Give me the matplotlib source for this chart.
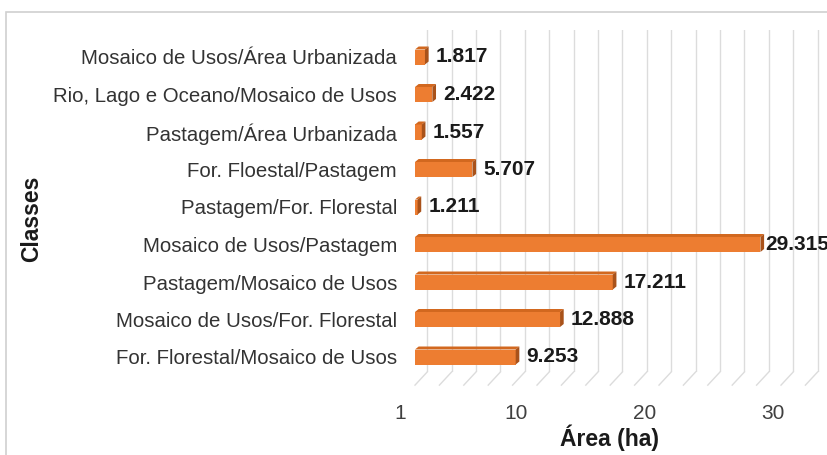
import matplotlib
matplotlib.use('Agg')
import matplotlib.pyplot as plt
from matplotlib.patches import Polygon, Rectangle
import numpy as np

plt.rcParams['font.family'] = ['Liberation Sans', 'DejaVu Sans']

# Data (bottom to top)
categories = [
    "For. Florestal/Mosaico de Usos",
    "Mosaico de Usos/For. Florestal",
    "Pastagem/Mosaico de Usos",
    "Mosaico de Usos/Pastagem",
    "Pastagem/For. Florestal",
    "For. Floestal/Pastagem",
    "Pastagem/Área Urbanizada",
    "Rio, Lago e Oceano/Mosaico de Usos",
    "Mosaico de Usos/Área Urbanizada",
]
values = [9.253, 12.888, 17.211, 29.315, 1.211, 5.707, 1.557, 2.422, 1.817]
x_ticks = [1, 10, 20, 30]
axis_min = 1

W, H = 827, 455
fig = plt.figure(figsize=(W / 100, H / 100), dpi=100)


def px(l, t, r, b):
    return [l / W, 1 - b / H, (r - l) / W, (b - t) / H]


back_scale = 12.2   # px per unit at back wall
front_scale = 12.85  # px per unit at front floor edge

ax = fig.add_axes(px(415, 30, 827, 372))
xmax = axis_min + 412 / back_scale
ax.set_xlim(axis_min, xmax)
ax.set_ylim(-0.4, len(categories) - 1 + 0.72)
ax.patch.set_visible(False)
for s in ax.spines.values():
    s.set_visible(False)

# back wall gridlines and floor lines
grid_c = '#DCDCDC'
for g in np.arange(2, 36, 2):
    ax.axvline(g, color=grid_c, lw=1, zorder=0)
    ax.plot([g, g - 1.0], [-0.4, -0.75], color=grid_c, lw=1, clip_on=False, zorder=0)

y = np.arange(len(categories))
h = 0.4
dx, dy = 0.3, 0.08
front_c, top_c, cap_c = '#ED7D31', '#D2681F', '#A9521A'
widths = [v - axis_min for v in values]
ax.barh(y, widths, left=axis_min, height=h, color=front_c, zorder=3)
for yi, v in zip(y, values):
    top = Polygon([(axis_min, yi + h / 2), (v, yi + h / 2), (v + dx, yi + h / 2 + dy),
                   (axis_min + dx, yi + h / 2 + dy)], closed=True, color=top_c, zorder=3, lw=0)
    cap = Polygon([(v, yi - h / 2), (v, yi + h / 2), (v + dx, yi + h / 2 + dy),
                   (v + dx, yi - h / 2 + dy)], closed=True, color=cap_c, zorder=4, lw=0)
    ax.add_patch(top)
    ax.add_patch(cap)
    gap = 0.5 if v + dx > xmax - 6 else 5
    ax.annotate(f"{v:.3f}", xy=(v + dx, yi), xytext=(gap, 0), textcoords='offset points',
                ha='left', va='center', fontsize=15, fontweight='bold', color='#1a1a1a',
                annotation_clip=False, zorder=5)

ax.set_yticks(y)
ax.set_yticklabels(categories, fontsize=14.7, color='#333333')
ax.tick_params(axis='y', length=0, pad=13)
ax.set_xticks([])

# front axis for tick labels
fax = fig.add_axes(px(400, 30, 827, 385))
fax.patch.set_visible(False)
for s in fax.spines.values():
    s.set_visible(False)
fax.set_xlim(axis_min, axis_min + 427 / front_scale)
fax.set_xticks(x_ticks)
fax.set_xticklabels([str(t) for t in x_ticks], fontsize=15, color='#404040')
fax.tick_params(axis='x', length=0, pad=13.5)
fax.set_yticks([])

fig.text(32 / W, 1 - 219 / H, 'Classes', rotation=90, fontweight='bold', fontsize=16.5,
         ha='center', va='center', color='#1a1a1a')
fig.text(609 / W, 1 - 438 / H, 'Área (ha)', fontweight='bold', fontsize=16.5,
         ha='center', va='center', color='#1a1a1a')

fig.patches.append(Rectangle((6 / W, -0.02), 1.0, 1 - 12 / H + 0.02, transform=fig.transFigure,
                             fill=False, edgecolor='#D0D0D0', lw=1.2))

fig.savefig('out.png', dpi=100)
